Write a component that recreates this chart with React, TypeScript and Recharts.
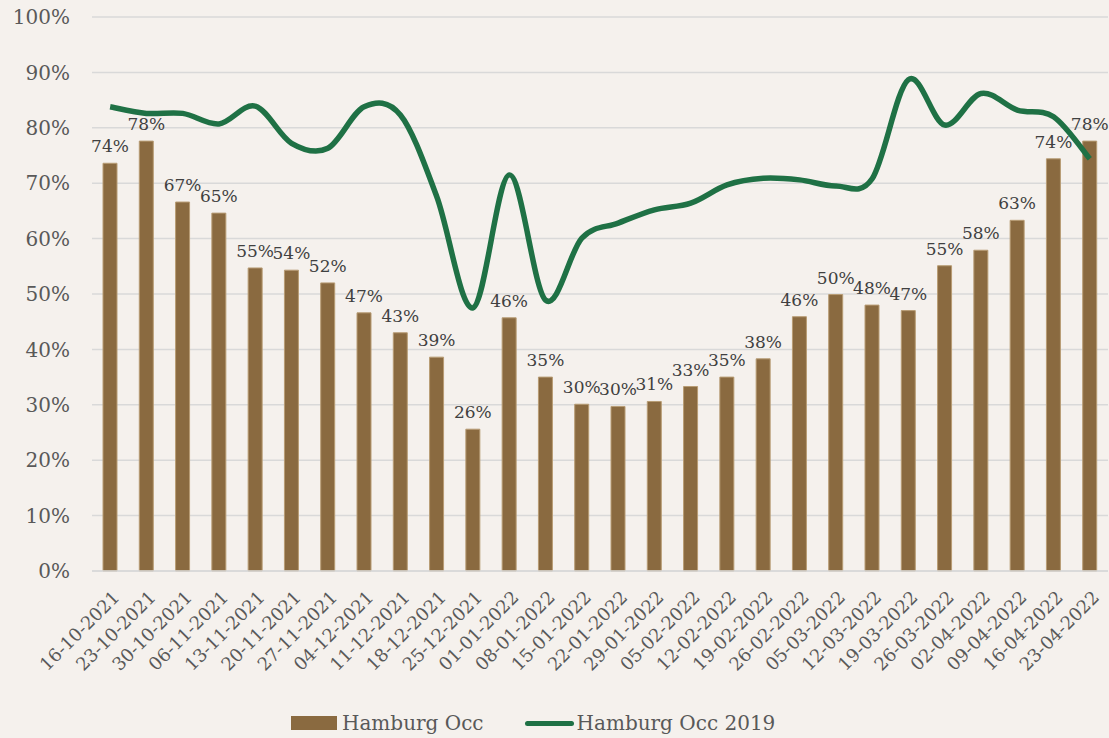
import { ComposedChart, Bar, Line, XAxis, YAxis, CartesianGrid, LabelList } from "recharts";

const weeks = [
  "16-10-2021", "23-10-2021", "30-10-2021", "06-11-2021", "13-11-2021", "20-11-2021", "27-11-2021",
  "04-12-2021", "11-12-2021", "18-12-2021", "25-12-2021", "01-01-2022", "08-01-2022", "15-01-2022",
  "22-01-2022", "29-01-2022", "05-02-2022", "12-02-2022", "19-02-2022", "26-02-2022", "05-03-2022",
  "12-03-2022", "19-03-2022", "26-03-2022", "02-04-2022", "09-04-2022", "16-04-2022", "23-04-2022",
];

const occ = [
  73.6, 77.6, 66.6, 64.6, 54.7, 54.3, 52.0, 46.6, 43.0, 38.6, 25.6, 45.7, 35.0, 30.1,
  29.7, 30.6, 33.3, 35.0, 38.3, 45.9, 49.9, 48.0, 47.0, 55.1, 57.9, 63.3, 74.4, 77.6,
];

const occ2019 = [
  83.8, 82.6, 82.6, 80.7, 83.9, 77.2, 76.3, 83.8, 82.3, 67.6, 47.5, 71.5, 48.9, 60.1,
  62.8, 65.2, 66.4, 69.7, 70.9, 70.6, 69.5, 70.8, 88.7, 80.5, 86.2, 83.2, 82.0, 74.4,
];

const yTicks = [0, 10, 20, 30, 40, 50, 60, 70, 80, 90, 100];

const data = weeks.map((week, i) => ({ week, occ: occ[i], occ2019: occ2019[i] }));

const BROWN = "#8a6a40";
const GREEN = "#1f7145";
const TEXT = "#595959";

// excel-ish smoothed line (catmull-rom through the points)
const smoothCurve = (context: any) => {
  let pts: [number, number][] = [];
  return {
    areaStart() {},
    areaEnd() {},
    lineStart() {
      pts = [];
    },
    lineEnd() {
      if (!pts.length) return;
      context.moveTo(pts[0][0], pts[0][1]);
      for (let i = 0; i < pts.length - 1; i++) {
        const p0 = pts[i - 1] || pts[i];
        const p1 = pts[i];
        const p2 = pts[i + 1];
        const p3 = pts[i + 2] || p2;
        const t = 1 / 6;
        context.bezierCurveTo(
          p1[0] + (p2[0] - p0[0]) * t,
          p1[1] + (p2[1] - p0[1]) * t,
          p2[0] - (p3[0] - p1[0]) * t,
          p2[1] - (p3[1] - p1[1]) * t,
          p2[0],
          p2[1]
        );
      }
    },
    point(x: number, y: number) {
      pts.push([+x, +y]);
    },
  };
};

const DateTick = (props: any) => {
  const { x, y, payload } = props;
  const ax = x + 6;
  const ay = y + 15;
  return (
    <text
      x={ax}
      y={ay}
      dy="0.35em"
      textAnchor="end"
      transform={`rotate(-45, ${ax}, ${ay})`}
      fill={TEXT}
      fontSize={18}
    >
      {payload.value}
    </text>
  );
};

export default function App() {
  return (
    <div
      style={{
        position: "absolute",
        left: 0,
        top: 0,
        width: 1109,
        height: 738,
        background: "#f5f1ed",
        fontFamily: '"DejaVu Serif", serif',
      }}
    >
      <ComposedChart width={1109} height={738} data={data} margin={{ top: 17, right: 1, bottom: 47, left: 0 }}>
        <CartesianGrid vertical={false} stroke="#d9d9d9" strokeWidth={1.5} />
        <XAxis
          dataKey="week"
          interval={0}
          height={120}
          tick={<DateTick />}
          tickLine={false}
          axisLine={{ stroke: "#d9d9d9", strokeWidth: 1.5 }}
        />
        <YAxis
          width={92}
          domain={[0, 100]}
          ticks={yTicks}
          tickFormatter={(v: number) => `${v}%`}
          tick={{ fill: TEXT, fontSize: 20 }}
          tickMargin={16}
          axisLine={false}
          tickLine={false}
        />
        <Bar dataKey="occ" fill={BROWN} stroke="#b89c74" strokeWidth={1} barSize={14} isAnimationActive={false}>
          <LabelList
            dataKey="occ"
            position="top"
            offset={11}
            formatter={(v: any) => `${Math.round(Number(v))}%`}
            fill="#404040"
            fontSize={17}
          />
        </Bar>
        <Line
          dataKey="occ2019"
          type={smoothCurve as any}
          stroke={GREEN}
          strokeWidth={5.5}
          dot={false}
          activeDot={false}
          isAnimationActive={false}
        />
      </ComposedChart>
      <div
        style={{
          position: "absolute",
          left: 291,
          top: 709,
          display: "flex",
          alignItems: "center",
          fontSize: 20,
          color: TEXT,
          lineHeight: "28px",
        }}
      >
        <span style={{ display: "inline-block", width: 46, height: 14, background: BROWN, marginRight: 5 }} />
        <span>Hamburg Occ</span>
        <span
          style={{
            display: "inline-block",
            width: 49,
            height: 5,
            borderRadius: 3,
            background: GREEN,
            marginLeft: 41,
            marginRight: 3,
          }}
        />
        <span>Hamburg Occ 2019</span>
      </div>
    </div>
  );
}
